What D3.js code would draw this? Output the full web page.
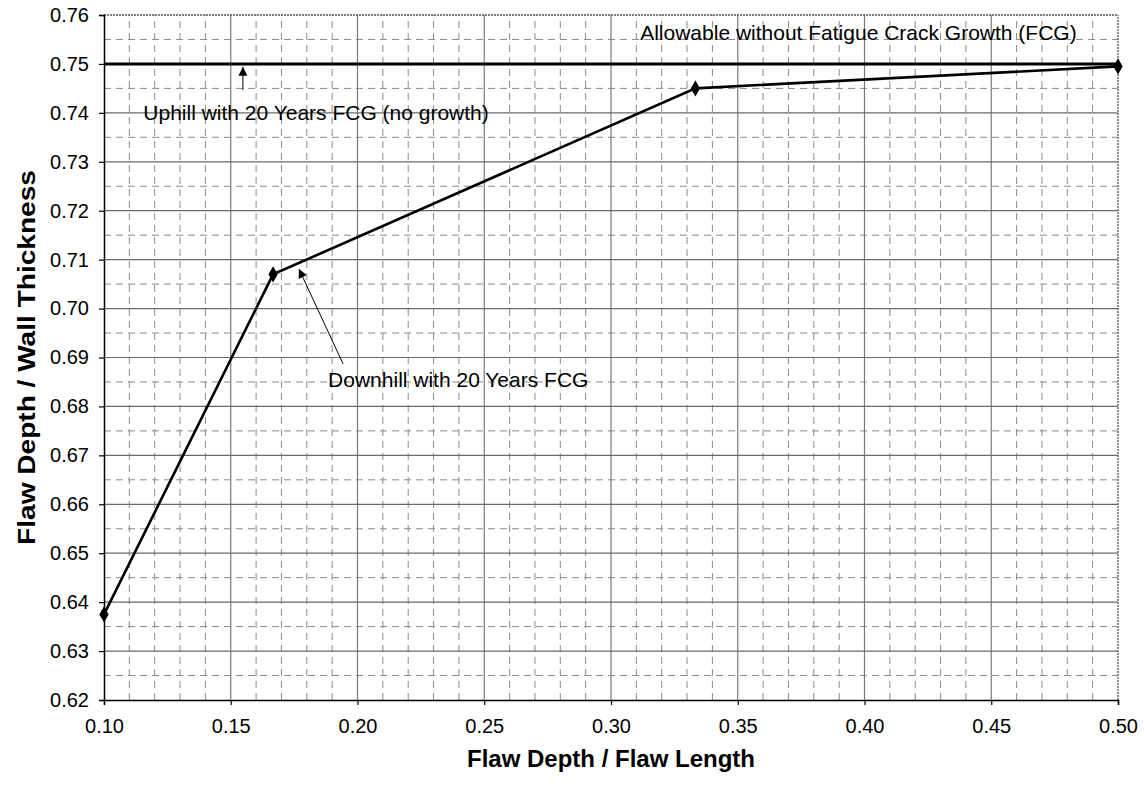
<!DOCTYPE html>
<html>
<head>
<meta charset="utf-8">
<script src="https://cdn.jsdelivr.net/npm/d3@7"></script>
<style>
  body { margin: 0; background: #fff; }
  svg { display: block; font-family: "Liberation Sans", Arial, sans-serif; }
</style>
</head>
<body>
<svg id="chart" width="1144" height="785"></svg>
<script>
// ---- data ----
const downhillX = [0.10, 0.1667, 0.3333, 0.50];
const downhillY = [0.6375, 0.707, 0.745, 0.7495];
const allowableX = [0.10, 0.50];
const allowableY = [0.75, 0.75];
const xTicks = [0.10, 0.15, 0.20, 0.25, 0.30, 0.35, 0.40, 0.45, 0.50];
const yTicks = [0.62, 0.63, 0.64, 0.65, 0.66, 0.67, 0.68, 0.69, 0.70, 0.71, 0.72, 0.73, 0.74, 0.75, 0.76];
const xTitle = "Flaw Depth / Flaw Length";
const yTitle = "Flaw Depth / Wall Thickness";
const annotations = [
  { text: "Allowable without Fatigue Crack Growth (FCG)", tx: 0.4837, ty: 0.7563, anchor: "end" },
  { text: "Uphill with 20 Years FCG (no growth)", tx: 0.1155, ty: 0.740, anchor: "start", ax0: 0.1548, ay0: 0.7447, ax1: 0.1548, ay1: 0.7494 },
  { text: "Downhill with 20 Years FCG", tx: 0.1884, ty: 0.6855, anchor: "start", ax0: 0.1943, ay0: 0.6887, ax1: 0.1769, ay1: 0.7081 }
];

// ---- layout ----
const W = 1144, H = 785;
const m = { left: 104, right: 26, top: 15, bottom: 85 };
const svg = d3.select("#chart");
const x = d3.scaleLinear().domain([0.10, 0.50]).range([m.left, W - m.right]);
const y = d3.scaleLinear().domain([0.62, 0.76]).range([H - m.bottom, m.top]);

const defs = svg.append("defs");
defs.append("marker").attr("id", "ah").attr("viewBox", "0 0 10 10")
  .attr("refX", 10).attr("refY", 5).attr("markerWidth", 9).attr("markerHeight", 9)
  .attr("markerUnits", "userSpaceOnUse").attr("orient", "auto")
  .append("path").attr("d", "M0,0 L10,5 L0,10 Z").attr("fill", "#000");

const g = svg.append("g");

// minor grid (x every 0.01, y every 0.005)
const xMinor = d3.range(0.11, 0.50, 0.01).filter(v => Math.abs(v * 20 - Math.round(v * 20)) > 1e-6);
const yMinor = d3.range(0.625, 0.76, 0.01);
g.selectAll(".xminor").data(xMinor).join("line")
  .attr("x1", d => x(d)).attr("x2", d => x(d)).attr("y1", y(0.62)).attr("y2", y(0.76))
  .attr("stroke", "#8a8a8a").attr("stroke-width", 1).attr("stroke-dasharray", "7,5");
g.selectAll(".yminor").data(yMinor).join("line")
  .attr("y1", d => y(d)).attr("y2", d => y(d)).attr("x1", x(0.10)).attr("x2", x(0.50))
  .attr("stroke", "#8a8a8a").attr("stroke-width", 1).attr("stroke-dasharray", "7,5");

// major grid
g.selectAll(".xmajor").data(xTicks.slice(1, -1)).join("line")
  .attr("x1", d => x(d)).attr("x2", d => x(d)).attr("y1", y(0.62)).attr("y2", y(0.76))
  .attr("stroke", "#7a7a7a").attr("stroke-width", 1.2);
g.selectAll(".ymajor").data(yTicks.slice(1, -1)).join("line")
  .attr("y1", d => y(d)).attr("y2", d => y(d)).attr("x1", x(0.10)).attr("x2", x(0.50))
  .attr("stroke", "#6a6a6a").attr("stroke-width", 1.2);

// plot frame (top/right dotted)
g.append("line").attr("x1", x(0.10)).attr("x2", x(0.50)).attr("y1", y(0.76)).attr("y2", y(0.76))
  .attr("stroke", "#555").attr("stroke-width", 1.3).attr("stroke-dasharray", "2,1");
g.append("line").attr("x1", x(0.50)).attr("x2", x(0.50)).attr("y1", y(0.62)).attr("y2", y(0.76))
  .attr("stroke", "#555").attr("stroke-width", 1.3).attr("stroke-dasharray", "2,1");

// axes
const xAxis = d3.axisBottom(x).tickValues(xTicks).tickFormat(d3.format(".2f")).tickSize(5).tickPadding(14);
const yAxis = d3.axisLeft(y).tickValues(yTicks).tickFormat(d3.format(".2f")).tickSize(5).tickPadding(10);
const gx = svg.append("g").attr("transform", `translate(0,${H - m.bottom})`).call(xAxis);
const gy = svg.append("g").attr("transform", `translate(${m.left},0)`).call(yAxis);
[gx, gy].forEach(a => {
  a.select(".domain").attr("stroke", "#000").attr("stroke-width", 1.5);
  a.selectAll(".tick line").attr("stroke", "#000").attr("stroke-width", 1.2);
  a.selectAll(".tick text").attr("fill", "#000").style("font-size", "20px")
    .style("font-family", "'Liberation Sans', Arial, sans-serif");
});

// series
const line = d3.line().x(d => x(d[0])).y(d => y(d[1]));
const allow = allowableX.map((v, i) => [v, allowableY[i]]);
const down = downhillX.map((v, i) => [v, downhillY[i]]);
svg.append("path").datum(allow).attr("d", line).attr("fill", "none")
  .attr("stroke", "#000").attr("stroke-width", 3);
svg.append("path").datum(down).attr("d", line).attr("fill", "none")
  .attr("stroke", "#000").attr("stroke-width", 2.6);
const diamond = d3.symbol().type(d3.symbolDiamond).size(75);
svg.selectAll(".pt").data(down).join("path")
  .attr("d", diamond)
  .attr("transform", d => `translate(${x(d[0])},${y(d[1])})`)
  .attr("fill", "#000");

// annotations
annotations.forEach(a => {
  svg.append("text").attr("x", x(a.tx)).attr("y", y(a.ty)).attr("dy", "0.35em")
    .attr("text-anchor", a.anchor).style("font-size", "21px").attr("fill", "#000").text(a.text);
  if (a.ax0 !== undefined) {
    svg.append("line").attr("x1", x(a.ax0)).attr("y1", y(a.ay0)).attr("x2", x(a.ax1)).attr("y2", y(a.ay1))
      .attr("stroke", "#000").attr("stroke-width", 1).attr("marker-end", "url(#ah)");
  }
});

// axis titles
svg.append("text").attr("x", (x(0.10) + x(0.50)) / 2).attr("y", 759).attr("dy", "0.35em")
  .attr("text-anchor", "middle").style("font-size", "24px").style("font-weight", "bold").text(xTitle);
svg.append("text").attr("transform", `translate(27,${(y(0.62) + y(0.76)) / 2}) rotate(-90) scale(1.17,1)`)
  .attr("dy", "0.35em").attr("text-anchor", "middle").style("font-size", "24px").style("font-weight", "bold").text(yTitle);
</script>
</body>
</html>
